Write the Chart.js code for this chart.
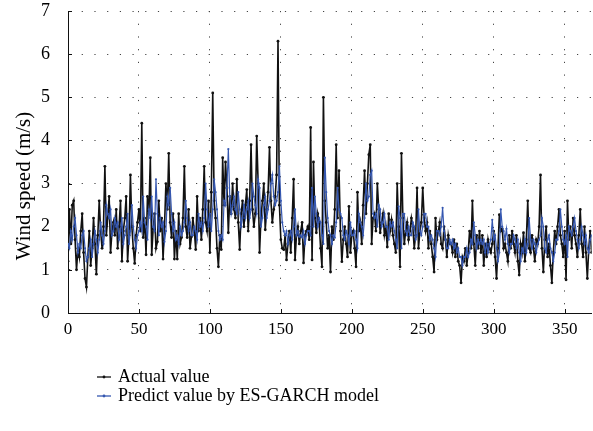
<!DOCTYPE html>
<html>
<head>
<meta charset="utf-8">
<script src="https://cdn.jsdelivr.net/npm/chart.js@4/dist/chart.umd.min.js"></script>
<style>
  html, body { margin: 0; padding: 0; background: #fff; }
  #wrap { width: 593px; height: 431px; }
</style>
</head>
<body>
<div id="wrap"><canvas id="chart" width="593" height="431"></canvas></div>
<script>
const seriesNames = ["Actual value", "Predict value by ES-GARCH model"];
const yTitle = "Wind speed (m/s)";
const xTicks = [0, 50, 100, 150, 200, 250, 300, 350];
const yTicks = [0, 1, 2, 3, 4, 5, 6, 7];

// daily wind speed (m/s)
const actual = [
  1.2, 2.4, 1.6, 2.5, 2.6, 1.7, 1.0, 1.5, 1.3, 1.9,
  2.3, 1.4, 0.8, 0.6, 1.3, 1.9, 1.1, 1.5, 2.2, 1.6,
  0.9, 1.8, 2.6, 1.9, 1.5, 2.0, 3.4, 1.8, 2.2, 2.7,
  1.4, 1.9, 2.1, 1.8, 2.4, 1.5, 2.0, 2.6, 1.2, 1.9,
  2.2, 2.7, 1.2, 1.8, 3.2, 2.0, 1.5, 1.15, 1.8, 2.1,
  2.4, 1.9, 4.4, 1.75, 2.2, 1.35, 2.7, 2.3, 3.6, 1.35,
  1.95, 2.3, 1.5, 1.65, 2.6, 1.9, 2.2, 1.25, 2.0, 3.0,
  2.4, 3.7, 2.1, 1.75, 2.3, 1.25, 1.9, 1.25, 2.3, 1.6,
  1.75, 2.2, 3.4, 2.0, 1.75, 2.4, 1.5, 1.77, 2.2, 1.9,
  1.47, 2.7, 1.9, 2.2, 1.7, 2.4, 3.4, 2.1, 1.9, 2.6,
  1.4, 2.8, 5.1, 2.6, 2.2, 1.5, 1.07, 1.8, 1.47, 3.6,
  2.5, 3.5, 2.9, 1.86, 2.7, 2.3, 3.0, 2.4, 2.2, 3.1,
  2.1, 1.47, 2.3, 2.6, 2.0, 2.5, 2.86, 1.9, 2.6, 3.9,
  2.4, 2.0, 2.3, 4.1, 3.0, 1.4, 2.2, 2.6, 3.0, 1.93,
  2.4, 2.8, 3.84, 2.6, 2.1, 2.4, 2.7, 3.2, 6.3, 2.5,
  1.7, 1.5, 1.47, 1.8, 1.23, 1.6, 1.9, 1.4, 2.2, 3.1,
  1.23, 1.8, 2.0, 1.6, 1.9, 2.1, 1.16, 1.8, 1.9, 2.0,
  1.7, 4.3, 1.23, 3.5, 2.2, 1.86, 2.3, 2.1, 1.5, 1.07,
  5.0, 2.6, 2.1, 1.5, 1.8, 0.95, 2.0, 1.7, 2.4, 3.9,
  2.2, 3.3, 1.9, 1.19, 1.7, 2.0, 1.6, 1.3, 2.47, 1.4,
  1.8, 1.9, 1.5, 1.07, 2.8, 1.9, 2.1, 1.6, 2.5, 3.3,
  2.3, 3.0, 3.67, 3.9, 1.6, 2.2, 2.3, 1.9, 3.0, 2.4,
  1.86, 2.1, 2.3, 1.8, 2.0, 1.53, 2.3, 1.9, 2.16, 1.8,
  1.6, 1.4, 3.0, 2.0, 1.07, 3.7, 2.2, 1.6, 1.9, 2.1,
  1.7, 1.9, 2.2, 2.0, 1.5, 1.8, 2.9, 1.5, 1.9, 2.1,
  2.9, 2.2, 1.9, 2.1, 1.5, 1.9, 1.6, 1.3, 0.95, 2.2,
  1.7, 1.9, 2.1, 1.6, 1.5, 2.0, 1.7, 1.3, 1.8, 1.6,
  1.6, 1.4, 1.7, 1.3, 1.6, 1.2, 1.1, 0.7, 1.3, 1.2,
  1.5, 1.1, 1.4, 1.9, 1.5, 2.6, 1.6, 1.1, 1.8, 1.5,
  1.9, 1.4, 1.8, 1.1, 1.6, 1.3, 1.7, 1.5, 1.4, 1.6,
  1.9, 1.3, 0.8, 1.5, 2.28, 1.9, 1.95, 1.5, 1.6, 1.4,
  1.2, 1.8, 1.5, 1.9, 1.6, 1.4, 1.8, 1.2, 0.88, 1.6,
  1.4, 1.86, 1.2, 1.7, 2.6, 1.5, 1.4, 1.8, 1.5, 1.2,
  1.7, 1.6, 2.0, 3.2, 1.5, 0.95, 1.7, 2.0, 1.3, 1.6,
  1.1, 0.7, 1.4, 1.9, 1.6, 2.0, 2.4, 1.8, 1.6, 1.3,
  1.9, 0.77, 2.6, 1.7, 2.0, 1.5, 2.2, 1.8, 1.6, 1.3,
  1.8, 2.4, 1.6, 1.3, 2.0, 1.4, 0.8, 1.5, 1.9, 1.4
];

const predicted = [
  1.6, 1.5, 1.9, 1.7, 2.0, 2.2, 1.8, 1.4, 1.6, 1.5,
  1.8, 1.9, 1.5, 1.2, 1.3, 1.5, 1.7, 1.3, 1.6, 1.9,
  1.7, 1.4, 1.7, 2.1, 1.8, 1.6, 1.9, 2.5, 2.3, 2.2,
  2.4, 1.8, 1.9, 2.2, 2.0, 2.1, 1.7, 1.9, 2.2, 1.6,
  1.8, 2.0, 2.3, 1.6, 1.9, 2.5, 2.0, 1.7, 1.5, 1.8,
  1.9, 2.1, 1.9, 2.7, 2.1, 2.0, 1.7, 2.4, 2.2, 2.7,
  2.0, 1.9, 3.1, 2.3, 1.8, 2.2, 2.0, 2.1, 1.65, 1.9,
  2.7, 2.5, 2.9, 2.3, 1.9, 2.1, 1.7, 1.8, 1.6, 2.0,
  1.8, 1.9, 2.1, 2.6, 2.2, 1.9, 2.1, 1.8, 1.8, 2.0,
  1.9, 1.7, 2.3, 2.0, 2.1, 1.9, 2.2, 3.0, 2.4, 2.0,
  2.3, 1.9, 2.4, 3.1, 2.8, 2.4, 1.9, 1.7, 1.8, 1.7,
  2.6, 2.5, 2.9, 3.8, 2.7, 2.3, 2.5, 2.7, 2.4, 2.3,
  2.8, 2.4, 2.0, 2.2, 2.5, 2.2, 2.4, 2.6, 2.2, 2.4,
  3.0, 2.7, 2.5, 2.3, 3.1, 2.9, 2.0, 2.2, 2.5, 2.7,
  2.2, 2.4, 2.6, 3.0, 3.2, 2.7, 2.5, 2.6, 2.8, 3.4,
  2.6, 2.1, 1.9, 1.8, 1.9, 1.6, 1.8, 1.9, 1.7, 2.0,
  2.4, 1.8, 1.9, 1.77, 1.8, 1.75, 1.9, 1.6, 1.8, 1.9,
  1.9, 1.8, 2.9, 2.0, 2.7, 2.3, 2.0, 2.2, 2.1, 1.8,
  1.6, 3.6, 2.8, 2.2, 1.9, 1.8, 1.6, 1.8, 1.75, 2.1,
  2.9, 2.4, 2.3, 2.2, 1.8, 1.7, 1.9, 1.8, 1.6, 2.1,
  1.8, 1.8, 1.9, 1.7, 1.5, 2.3, 2.1, 2.0, 1.8, 2.2,
  3.0, 2.6, 2.7, 3.2, 3.3, 2.3, 2.2, 2.3, 2.0, 2.5,
  2.4, 2.0, 2.1, 2.3, 2.0, 2.0, 1.7, 2.1, 2.0, 2.1,
  1.9, 1.7, 1.5, 2.47, 2.2, 1.5, 2.3, 2.3, 1.9, 1.8,
  2.0, 1.8, 1.8, 2.1, 2.0, 1.7, 1.8, 2.4, 1.9, 1.8,
  2.0, 2.3, 2.3, 2.0, 2.0, 1.7, 1.8, 1.7, 1.5, 1.3,
  1.9, 1.9, 1.8, 2.0, 2.44, 1.9, 1.7, 1.5, 1.5, 1.7,
  1.6, 1.7, 1.5, 1.6, 1.4, 1.5, 1.3, 1.3, 1.1, 1.3,
  1.3, 1.5, 1.3, 1.4, 1.7, 1.6, 2.1, 1.8, 1.5, 1.7,
  1.6, 1.7, 1.6, 1.7, 1.4, 1.6, 1.4, 1.6, 1.7, 2.16,
  1.7, 1.8, 1.5, 1.2, 1.4, 2.4, 2.0, 1.9, 1.7, 1.95,
  1.6, 1.4, 1.6, 1.6, 1.8, 1.7, 1.5, 1.7, 1.4, 1.2,
  1.5, 1.4, 1.7, 1.4, 1.6, 2.2, 1.7, 1.5, 1.7, 1.6,
  1.4, 1.6, 1.7, 1.8, 2.2, 2.0, 1.5, 1.4, 1.7, 1.8,
  1.5, 1.4, 1.2, 1.4, 1.7, 1.7, 1.9, 2.4, 2.0, 1.7,
  1.6, 1.8, 1.3, 2.0, 1.9, 1.8, 2.0, 2.2, 1.9, 1.7,
  1.5, 1.7, 2.0, 1.8, 1.6, 1.8, 1.5, 1.4, 1.7, 1.8
];

const black = "#111111";
const blue = "#3557b0";
const serif = "'Liberation Serif', 'DejaVu Serif', serif";

function toPoints(arr) {
  return arr.map((v, i) => ({ x: i, y: v }));
}

// small inward tick marks on both axes
const innerTicks = {
  id: "innerTicks",
  afterDraw(chart) {
    const { ctx, chartArea, scales } = chart;
    ctx.save();
    ctx.strokeStyle = black;
    ctx.lineWidth = 1;
    ctx.beginPath();
    xTicks.forEach((t) => {
      const px = Math.round(scales.x.getPixelForValue(t)) + 0.5;
      ctx.moveTo(px, chartArea.bottom);
      ctx.lineTo(px, chartArea.bottom - 4);
    });
    yTicks.forEach((t) => {
      const py = Math.round(scales.y.getPixelForValue(t)) + 0.5;
      ctx.moveTo(chartArea.left, py);
      ctx.lineTo(chartArea.left + 4, py);
    });
    ctx.stroke();
    ctx.restore();
  }
};

// y title sits a bit below the axis middle, like the original
const sideTitle = {
  id: "sideTitle",
  afterDraw(chart) {
    const { ctx } = chart;
    ctx.save();
    ctx.translate(24, 186);
    ctx.rotate(-Math.PI / 2);
    ctx.font = "21px " + serif;
    ctx.fillStyle = "#000";
    ctx.textAlign = "center";
    ctx.textBaseline = "middle";
    ctx.fillText(yTitle, 0, 0);
    ctx.restore();
  }
};

// legend under the plot, one entry per row
const stackedLegend = {
  id: "stackedLegend",
  afterDraw(chart) {
    const { ctx } = chart;
    const colors = [black, blue];
    ctx.save();
    ctx.font = "18px " + serif;
    ctx.textBaseline = "middle";
    seriesNames.forEach((name, i) => {
      const y = 377 + i * 19;
      ctx.strokeStyle = colors[i];
      ctx.lineWidth = 1.3;
      ctx.beginPath();
      ctx.moveTo(97, y);
      ctx.lineTo(111, y);
      ctx.stroke();
      ctx.fillStyle = colors[i];
      ctx.beginPath();
      ctx.arc(104, y, 1.4, 0, Math.PI * 2);
      ctx.fill();
      ctx.fillStyle = "#000";
      ctx.fillText(name, 118, y);
    });
    ctx.restore();
  }
};

new Chart(document.getElementById("chart"), {
  type: "line",
  data: {
    datasets: [
      {
        label: seriesNames[1],
        data: toPoints(predicted),
        borderColor: blue,
        backgroundColor: blue,
        borderWidth: 1.2,
        pointRadius: 1.1,
        pointHoverRadius: 1.1,
        pointBorderWidth: 0,
        tension: 0,
        order: 0
      },
      {
        label: seriesNames[0],
        data: toPoints(actual),
        borderColor: black,
        backgroundColor: black,
        borderWidth: 1.6,
        pointRadius: 1.4,
        pointHoverRadius: 1.4,
        pointBorderWidth: 0,
        tension: 0,
        order: 1
      }
    ]
  },
  options: {
    responsive: false,
    animation: false,
    events: [],
    layout: { padding: { top: 11, right: 0, bottom: 88, left: 0 } },
    plugins: {
      legend: { display: false },
      tooltip: { enabled: false }
    },
    scales: {
      x: {
        type: "linear",
        min: 0,
        max: 369,
        afterBuildTicks: (s) => { s.ticks = xTicks.map((v) => ({ value: v })); },
        afterFit: (s) => { s.height = 30; s.paddingLeft = 0; s.paddingRight = 0; },
        grid: { color: "#444", lineWidth: 1, drawTicks: false },
        border: { color: black, width: 1, dash: [1.2, 11.5] },
        ticks: {
          color: "#000",
          padding: 6,
          maxRotation: 0,
          font: { family: serif, size: 17 }
        }
      },
      y: {
        min: 0,
        max: 7,
        afterBuildTicks: (s) => { s.ticks = yTicks.map((v) => ({ value: v })); },
        afterFit: (s) => { s.width = 68; s.paddingTop = 0; s.paddingBottom = 0; },
        grid: { color: "#444", lineWidth: 1, drawTicks: false },
        border: { color: black, width: 1, dash: [1.2, 11.5] },
        ticks: {
          color: "#000",
          padding: 18,
          font: { family: serif, size: 18 }
        }
      }
    }
  },
  plugins: [innerTicks, sideTitle, stackedLegend]
});
</script>
</body>
</html>
